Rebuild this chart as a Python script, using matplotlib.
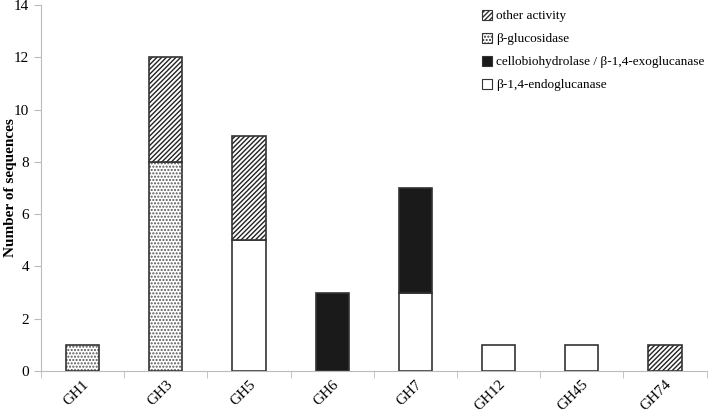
import numpy as np
import matplotlib.pyplot as plt
from matplotlib.patches import Patch

plt.rcParams['font.family'] = ['Liberation Serif', 'DejaVu Serif']
plt.rcParams['hatch.linewidth'] = 1.0

# dados
familias = ['GH1', 'GH3', 'GH5', 'GH6', 'GH7', 'GH12', 'GH45', 'GH74']
endoglucanase = [0, 0, 5, 0, 3, 1, 1, 0]
celobiohidrolase = [0, 0, 0, 3, 4, 0, 0, 0]
glucosidase = [1, 8, 0, 0, 0, 0, 0, 0]
outra = [0, 4, 4, 0, 0, 0, 0, 1]

rotulos = ['\u03b2-1,4-endoglucanase',
           'cellobiohydrolase / \u03b2-1,4-exoglucanase',
           '\u03b2-glucosidase',
           'other activity']

fig = plt.figure(figsize=(7.08, 4.15), dpi=100)
ax = fig.add_axes([0.058, 0.106, 0.94, 0.882])

x = np.arange(len(familias))
larg = 0.4
base = np.zeros(len(familias))

estilos = [
    dict(facecolor='white', edgecolor='#333333', hatch=None),
    dict(facecolor='#1a1a1a', edgecolor='#1a1a1a', hatch=None),
    dict(facecolor='white', edgecolor='#555555', hatch='.....'),
    dict(facecolor='white', edgecolor='#222222', hatch='///////'),
]

handles = []
for valores, est, rot in zip([endoglucanase, celobiohidrolase, glucosidase, outra], estilos, rotulos):
    v = np.array(valores, dtype=float)
    mask = v > 0
    ax.bar(x[mask], v[mask], larg, bottom=base[mask], facecolor=est['facecolor'],
           edgecolor=est['edgecolor'], hatch=est['hatch'], linewidth=0)
    # contorno
    ax.bar(x[mask], v[mask], larg, bottom=base[mask], facecolor='none',
           edgecolor='#333333', linewidth=1.2)
    base = base + v
    handles.append(Patch(facecolor=est['facecolor'], edgecolor='#333333',
                         hatch=est['hatch'], linewidth=0.8, label=rot))

ax.set_xlim(-0.5, len(familias) - 0.5)
ax.set_ylim(0, 14)
ax.set_yticks(range(0, 15, 2))
ax.set_xticks(x)
ax.set_xticklabels(familias, rotation=45, ha='right', rotation_mode='anchor', fontsize=11)
ax.set_xticks(np.arange(-0.5, len(familias), 1), minor=True)
ax.tick_params(axis='x', which='major', length=0, pad=5)
ax.tick_params(axis='x', which='minor', length=5, color='#bbbbbb')
ax.tick_params(axis='y', length=5, color='#bbbbbb', labelsize=11)

for lado in ['top', 'right']:
    ax.spines[lado].set_visible(False)
for lado in ['left', 'bottom']:
    ax.spines[lado].set_color('#bbbbbb')

ax.set_ylabel('Number of sequences', fontsize=11, fontweight='bold')
ax.yaxis.set_label_coords(-0.036, 0.5)

leg = fig.legend(handles[::-1], rotulos[::-1], loc='upper left',
                 bbox_to_anchor=(482 / 708, 1 - 10 / 415),
                 frameon=False, fontsize=9.5, handlelength=0.75, handleheight=0.75,
                 handletextpad=0.3, labelspacing=0.8, borderpad=0, borderaxespad=0)

fig.savefig('out.png', dpi=100)
